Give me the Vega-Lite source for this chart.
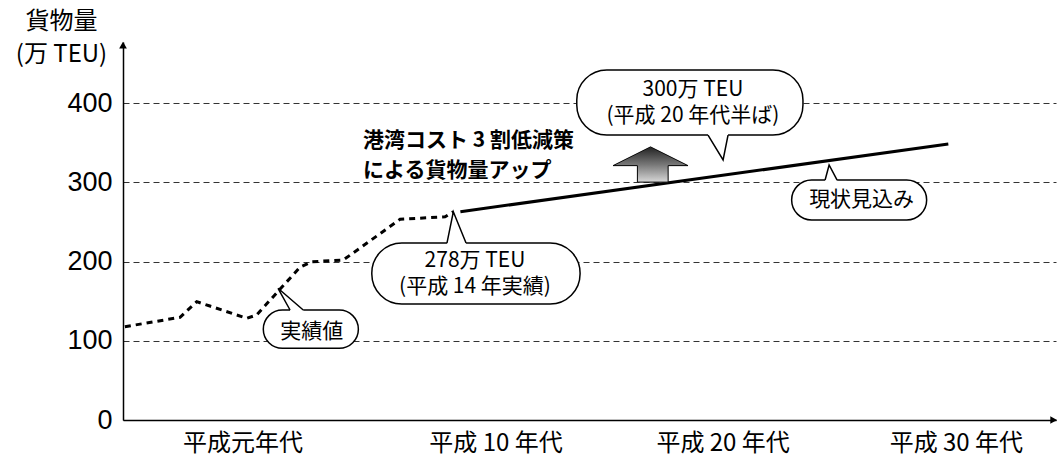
{
  "$schema": "https://vega.github.io/schema/vega-lite/v6.json",
  "width": 933,
  "height": 378,
  "autosize": {"type": "none"},
  "padding": {"left": 123, "top": 42, "right": 2, "bottom": 40},
  "background": "white",
  "config": {"view": {"stroke": null}},
  "datasets": {
    "series": [
      {"x": -0.22, "v": 117.7, "kind": "実績値"},
      {"x": 2.12, "v": 129.6, "kind": "実績値"},
      {"x": 2.83, "v": 149.3, "kind": "実績値"},
      {"x": 3.39, "v": 143.8, "kind": "実績値"},
      {"x": 4.95, "v": 128.3, "kind": "実績値"},
      {"x": 5.37, "v": 132.5, "kind": "実績値"},
      {"x": 6.36, "v": 164.9, "kind": "実績値"},
      {"x": 7.21, "v": 192.7, "kind": "実績値"},
      {"x": 7.71, "v": 199.7, "kind": "実績値"},
      {"x": 9.05, "v": 201.9, "kind": "実績値"},
      {"x": 10.04, "v": 223.0, "kind": "実績値"},
      {"x": 11.46, "v": 253.3, "kind": "実績値"},
      {"x": 13.37, "v": 256.5, "kind": "実績値"},
      {"x": 13.72, "v": 262.8, "kind": "実績値"},
      {"x": 14.02, "v": 262.8, "kind": "現状見込み"},
      {"x": 34.73, "v": 348.3, "kind": "現状見込み"}
    ],
    "boxes": [
      {"id": "a", "x": 5.655, "x2": 9.69, "v": 90.5, "v2": 138.8},
      {"id": "b", "x": 10.26, "x2": 19.1, "v": 146.4, "v2": 223.3},
      {"id": "c", "x": 18.96, "x2": 28.56, "v": 359.6, "v2": 441.6},
      {"id": "d", "x": 28.08, "x2": 33.81, "v": 252.4, "v2": 302.8}
    ],
    "gaps": [
      {"id": "a", "x": 6.79, "x2": 7.35, "v": 138.8},
      {"id": "b", "x": 13.45, "x2": 14.26, "v": 223.3},
      {"id": "c", "x": 24.53, "x2": 25.38, "v": 359.6},
      {"id": "d", "x": 29.5, "x2": 30.01, "v": 302.8}
    ],
    "pointers": [
      {"id": "a", "o": 1, "x": 6.79, "v": 138.8},
      {"id": "a", "o": 2, "x": 6.28, "v": 166.2},
      {"id": "a", "o": 3, "x": 7.35, "v": 138.8},
      {"id": "b", "o": 1, "x": 13.45, "v": 223.3},
      {"id": "b", "o": 2, "x": 13.72, "v": 262.8},
      {"id": "b", "o": 3, "x": 14.26, "v": 223.3},
      {"id": "c", "o": 1, "x": 24.53, "v": 359.6},
      {"id": "c", "o": 2, "x": 25.17, "v": 328.1},
      {"id": "c", "o": 3, "x": 25.38, "v": 359.6},
      {"id": "d", "o": 1, "x": 29.5, "v": 302.8},
      {"id": "d", "o": 2, "x": 29.67, "v": 321.8},
      {"id": "d", "o": 3, "x": 30.01, "v": 302.8}
    ],
    "labels": [
      {"x": 7.71, "v": 111.4, "text": "実績値"},
      {"x": 14.64, "v": 200.8, "text": "278万 TEU"},
      {"x": 14.64, "v": 167.6, "text": "(平成 14 年実績)"},
      {"x": 23.89, "v": 416.8, "text": "300万 TEU"},
      {"x": 23.89, "v": 383.0, "text": "(平成 20 年代半ば)"},
      {"x": 31.05, "v": 277.6, "text": "現状見込み"}
    ],
    "note": [
      {"x": 9.89, "v": 352.0, "text": "港湾コスト 3 割低減策"},
      {"x": 9.89, "v": 314.8, "text": "による貨物量アップ"}
    ],
    "arrow": [{"x": 22.09, "v": 322.4}],
    "axisArrows": [
      {"x": -0.3, "v": 473, "dir": "up"},
      {"x": 39.2, "v": 0, "dir": "right"}
    ]
  },
  "encoding": {
    "x": {
      "field": "x",
      "type": "quantitative",
      "scale": {"domain": [-0.3, 39.3], "nice": false, "zero": false},
      "axis": {
        "values": [4.77, 15.51, 25.15, 35.05],
        "labelExpr": "datum.value < 10 ? '平成元年代' : datum.value < 20 ? '平成 10 年代' : datum.value < 30 ? '平成 20 年代' : '平成 30 年代'",
        "ticks": false,
        "grid": false,
        "domainColor": "black",
        "domainWidth": 1.5,
        "labelFont": "Noto Sans CJK JP",
        "labelFontSize": 24,
        "labelColor": "black",
        "labelPadding": 11,
        "labelFlush": false,
        "labelOverlap": false,
        "title": null
      }
    },
    "y": {
      "field": "v",
      "type": "quantitative",
      "scale": {"domain": [0, 477], "nice": false, "zero": false},
      "axis": {
        "values": [0, 100, 200, 300, 400],
        "ticks": false,
        "grid": true,
        "gridDash": [6, 4],
        "gridColor": "#333",
        "gridWidth": 1,
        "domainColor": "black",
        "domainWidth": 1.5,
        "labelFont": "Liberation Sans",
        "labelFontSize": 27,
        "labelColor": "black",
        "labelPadding": 11,
        "title": ["貨物量", "(万 TEU)"],
        "titleFont": "Noto Sans CJK JP",
        "titleFontSize": 24,
        "titleFontWeight": "normal",
        "titleColor": "black",
        "titleAngle": 0,
        "titleAlign": "center",
        "titleBaseline": "top",
        "titleLineHeight": 33,
        "titleX": -62,
        "titleY": -33
      }
    }
  },
  "layer": [
    {
      "data": {"name": "series"},
      "transform": [{"filter": "datum.kind === '実績値'"}],
      "mark": {"type": "line", "color": "black", "strokeWidth": 3, "strokeDash": [6, 5]}
    },
    {
      "data": {"name": "series"},
      "transform": [{"filter": "datum.kind === '現状見込み'"}],
      "mark": {"type": "line", "color": "black", "strokeWidth": 3}
    },
    {
      "data": {"name": "boxes"},
      "mark": {"type": "rect", "fill": "white", "stroke": "black", "strokeWidth": 1.5, "cornerRadius": 30},
      "encoding": {
        "x2": {"field": "x2"},
        "y2": {"field": "v2"}
      }
    },
    {
      "data": {"name": "gaps"},
      "mark": {"type": "rule", "color": "white", "strokeWidth": 3},
      "encoding": {"x2": {"field": "x2"}}
    },
    {
      "data": {"name": "pointers"},
      "mark": {"type": "line", "color": "black", "strokeWidth": 1.5, "strokeJoin": "miter"},
      "encoding": {
        "detail": {"field": "id"},
        "order": {"field": "o"}
      }
    },
    {
      "data": {"name": "labels"},
      "mark": {"type": "text", "font": "Noto Sans CJK JP", "fontSize": 21, "color": "black", "align": "center", "baseline": "middle"},
      "encoding": {"text": {"field": "text"}}
    },
    {
      "data": {"name": "note"},
      "mark": {"type": "text", "font": "Noto Sans CJK JP", "fontSize": 21, "fontWeight": "bold", "color": "black", "align": "left", "baseline": "middle"},
      "encoding": {"text": {"field": "text"}}
    },
    {
      "data": {"name": "arrow"},
      "mark": {
        "type": "point",
        "shape": "M0,-0.47 L1,0.03 L0.47,0.03 L0.47,0.47 L-0.35,0.47 L-0.35,0.03 L-1,0.03 Z",
        "size": 5625,
        "filled": true,
        "fill": {"gradient": "linear", "x1": 0, "y1": 0, "x2": 0, "y2": 1, "stops": [{"offset": 0, "color": "#222"}, {"offset": 0.5, "color": "#777"}, {"offset": 1, "color": "#d8d8d8"}]},
        "stroke": "black",
        "strokeWidth": 1,
        "opacity": 1
      }
    },
    {
      "data": {"name": "axisArrows"},
      "transform": [{"filter": "datum.dir === 'up'"}],
      "mark": {"type": "point", "shape": "triangle-up", "size": 60, "filled": true, "color": "black", "opacity": 1}
    },
    {
      "data": {"name": "axisArrows"},
      "transform": [{"filter": "datum.dir === 'right'"}],
      "mark": {"type": "point", "shape": "triangle-right", "size": 60, "filled": true, "color": "black", "opacity": 1}
    }
  ]
}
